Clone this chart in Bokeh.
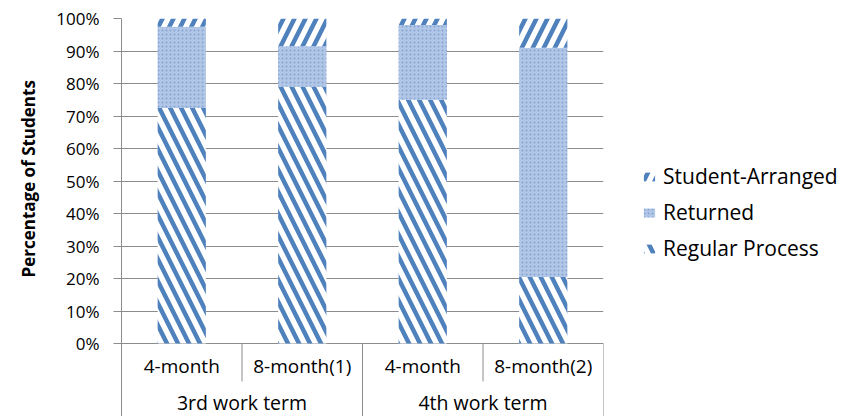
from bokeh.plotting import figure
from bokeh.models import (Range1d, FixedTicker, Legend, LegendItem, Title,
                          NumeralTickFormatter, ColumnDataSource)
from bokeh.core.properties import value
from bokeh.embed import file_html
from bokeh.resources import INLINE

# Placement outcome per work term and length of placement (share of students)
groups = ["3rd work term", "4th work term"]
lengths = ["4-month", "8-month(1)", "4-month", "8-month(2)"]
group_index = [0, 0, 1, 1]
regular = [0.725, 0.79, 0.75, 0.205]
returned = [0.25, 0.125, 0.23, 0.705]
student_arranged = [0.025, 0.085, 0.02, 0.09]
y_ticks = [0.0, 0.1, 0.2, 0.3, 0.4, 0.5, 0.6, 0.7, 0.8, 0.9, 1.0]

FONT = "Open Sans"
BLUE = "#4f81bd"
GRID = "#8c8c8c"

n = len(lengths)
xs = [i + 0.5 for i in range(n)]

ret_top = [a + b for a, b in zip(regular, returned)]
sa_top = [t + c for t, c in zip(ret_top, student_arranged)]

src = ColumnDataSource(dict(
    x=xs,
    reg_bottom=[0.0] * n, reg_top=regular,
    ret_bottom=regular, ret_top=ret_top,
    sa_bottom=ret_top, sa_top=sa_top,
))

# plot area spans 0..100% plus a band underneath for the category table
px_per_unit = 325.0
table_depth = 73.0 / px_per_unit

p = figure(frame_width=482, frame_height=398,
           output_backend="svg", toolbar_location=None,
           x_range=Range1d(0, n), y_range=Range1d(-table_depth, 1.0),
           min_border_left=119, min_border_right=0,
           min_border_top=18, min_border_bottom=0)
p.outline_line_color = None
p.background_fill_color = "white"
p.border_fill_color = "white"

p.xaxis.visible = False
p.xgrid.visible = False

yt = FixedTicker(ticks=y_ticks, minor_ticks=[])
p.yaxis.ticker = yt
p.ygrid.ticker = yt
p.yaxis.formatter = NumeralTickFormatter(format="0%")
p.yaxis.axis_line_color = GRID
p.yaxis.major_tick_line_color = GRID
p.yaxis.major_tick_out = 8
p.yaxis.major_tick_in = 0
p.yaxis.major_label_standoff = 14
p.yaxis.major_label_text_font = FONT
p.yaxis.major_label_text_font_size = "17px"
p.yaxis.major_label_text_color = "black"
p.ygrid.grid_line_color = GRID
p.ygrid.grid_line_width = 1

# axis title, anchored from the frame bottom so it sits beside the 0..100% span
ytitle = Title(text="Percentage of Students", align="left", offset=139,
               text_font=FONT, text_font_style="bold", text_font_size="17px",
               text_color="black", standoff=28)
p.add_layout(ytitle, "left")

bar_w = 0.4
r_reg = p.vbar(x="x", bottom="reg_bottom", top="reg_top", width=bar_w, source=src,
               fill_color="white", line_color=None,
               hatch_pattern="left_diagonal_line", hatch_color=BLUE,
               hatch_scale=22, hatch_weight=4.5)
r_ret = p.vbar(x="x", bottom="ret_bottom", top="ret_top", width=bar_w, source=src,
               fill_color="#b2c6e6", line_color=None,
               hatch_pattern="dot", hatch_color="#84a5d7",
               hatch_scale=4, hatch_weight=2)
r_sa = p.vbar(x="x", bottom="sa_bottom", top="sa_top", width=bar_w, source=src,
              fill_color="white", line_color=None,
              hatch_pattern="right_diagonal_line", hatch_color=BLUE,
              hatch_scale=22, hatch_weight=4.5)

# category table below the bars: separators and labels
inner_depth = 38.0 / px_per_unit
sx0, sy0, sx1, sy1 = [], [], [], []
for i in range(1, n + 1):
    group_edge = (i == n) or (group_index[i] != group_index[i - 1])
    sx0.append(i); sx1.append(i)
    sy0.append(0.0)
    sy1.append(-table_depth if group_edge else -inner_depth)
p.segment(x0=sx0, y0=sy0, x1=sx1, y1=sy1, line_color=GRID, line_width=1)

p.text(x=xs, y=[-22.0 / px_per_unit] * n, text=lengths,
       text_align="center", text_baseline="middle",
       text_font=value(FONT), text_font_size="19px", text_color="black")

group_x = []
for g in range(len(groups)):
    members = [xs[i] for i in range(n) if group_index[i] == g]
    group_x.append(sum(members) / len(members))
p.text(x=group_x, y=[-59.0 / px_per_unit] * len(groups), text=groups,
       text_align="center", text_baseline="middle",
       text_font=value(FONT), text_font_size="19.5px", text_color="black")

legend = Legend(items=[
    LegendItem(label="Student-Arranged", renderers=[r_sa]),
    LegendItem(label="Returned", renderers=[r_ret]),
    LegendItem(label="Regular Process", renderers=[r_reg]),
], location=(39, 154))
legend.border_line_color = None
legend.background_fill_alpha = 0
legend.padding = 0
legend.margin = 0
legend.spacing = 8
legend.glyph_width = 14
legend.glyph_height = 11
legend.label_height = 22
legend.label_standoff = 7
legend.label_text_font = FONT
legend.label_text_font_size = "21px"
legend.label_text_color = "black"
p.add_layout(legend, "right")

open("out.html", "w").write(file_html(p, INLINE))
